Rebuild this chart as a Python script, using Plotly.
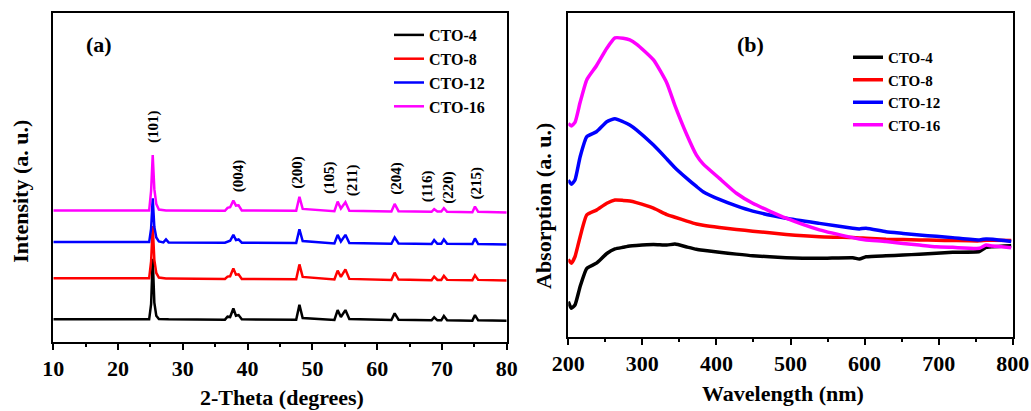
import plotly.graph_objects as go

# ---------------- data: (a) XRD ----------------
series_names = ["CTO-4", "CTO-8", "CTO-12", "CTO-16"]
series_colors = ["#000000", "#ff0000", "#0000ff", "#ff00ff"]

xrd_theta = [10, 24.8, 25.1, 25.35, 25.6, 25.9, 26.3, 27.0, 27.4, 27.8, 36.5, 36.9, 37.3, 37.8,
             38.2, 38.6, 39.1, 47.5, 48.0, 48.5, 53.4, 53.9, 54.4, 55.1, 55.7, 62.2, 62.7, 63.3,
             68.4, 68.8, 69.3, 69.9, 70.3, 70.8, 74.7, 75.1, 75.6, 80]
xrd_cto4 = [6.9, 6.9, 11.5, 25.3, 12.0, 8.0, 7.0, 6.9, 6.9, 6.9, 6.8, 7.7, 7.6, 10.2, 8.0, 8.2, 6.9,
            6.8, 11.3, 7.3, 6.7, 9.7, 7.6, 9.7, 7.0, 6.7, 8.7, 6.8, 6.6, 7.5, 6.6, 6.6, 7.9, 6.6,
            6.5, 8.2, 6.6, 6.5]
xrd_cto8 = [19.4, 19.4, 24.5, 35.3, 25.0, 21.0, 19.6, 19.3, 19.3, 19.3, 19.2, 19.9, 20.0, 22.4, 20.5,
            20.6, 19.2, 19.1, 23.6, 19.8, 19.0, 21.7, 19.8, 22.1, 19.2, 18.9, 21.1, 19.0, 18.8, 19.9,
            18.9, 18.9, 20.1, 18.9, 18.8, 20.3, 18.9, 18.7]
xrd_cto12 = [30.4, 30.4, 34.5, 43.7, 35.0, 31.8, 30.6, 30.3, 31.2, 30.3, 30.2, 30.6, 30.8, 32.6, 31.0,
             31.2, 30.2, 30.1, 34.3, 30.7, 30.0, 32.6, 30.6, 32.6, 30.1, 29.9, 31.8, 30.0, 29.8, 31.0,
             29.9, 29.9, 31.2, 29.9, 29.8, 31.5, 29.8, 29.7]
xrd_cto16 = [40.0, 40.0, 46.0, 56.9, 46.5, 42.0, 40.3, 40.0, 40.0, 40.0, 39.9, 40.8, 41.0, 43.0, 41.5,
             41.6, 40.0, 39.9, 44.2, 40.5, 39.8, 42.7, 40.6, 42.5, 39.9, 39.7, 42.0, 39.8, 39.6, 40.4,
             39.7, 39.7, 40.7, 39.6, 39.5, 41.2, 39.6, 39.4]

peak_labels = ["(101)", "(004)", "(200)", "(105)", "(211)", "(204)", "(116)", "(220)", "(215)"]
peak_label_x = [25.44, 38.56, 47.58, 52.72, 56.32, 63.02, 67.9, 71.09, 75.37]
peak_label_y = [65.5, 50.5, 51.7, 49.9, 49.3, 49.9, 47.5, 47.2, 48.4]

# ---------------- data: (b) UV-vis ----------------
wavelength = [200, 204, 209, 216, 225, 238, 252, 263, 274, 283, 292, 315, 333, 344, 360, 373, 382,
              404, 427, 449, 494, 539, 584, 593, 602, 629, 652, 674, 697, 719, 755, 764, 773, 798]
abs_cto4 = [10.9, 8.9, 9.9, 15.6, 21.2, 22.8, 25.8, 27.2, 27.7, 28.1, 28.3, 28.6, 28.4, 28.7, 27.8,
            27.1, 26.8, 26.2, 25.6, 25.1, 24.5, 24.3, 24.5, 24.1, 24.8, 25.1, 25.3, 25.6, 25.9, 26.2,
            26.4, 27.7, 27.9, 28.2]
abs_cto8 = [24.0, 22.8, 24.8, 31.0, 37.7, 39.2, 41.3, 42.3, 42.2, 42.0, 41.5, 39.8, 37.8, 37.0, 35.8,
            34.9, 34.5, 33.8, 33.2, 32.7, 31.7, 31.0, 30.7, 30.6, 30.5, 30.2, 30.1, 30.0, 29.9, 29.8,
            29.7, 29.9, 29.9, 29.8]
abs_cto12 = [48.5, 47.2, 48.5, 55.7, 61.9, 63.4, 66.5, 67.4, 66.5, 65.5, 64.0, 59.3, 55.0, 52.3, 49.0,
             46.5, 44.9, 42.5, 40.5, 38.9, 36.7, 35.1, 33.6, 33.4, 33.6, 32.5, 32.0, 31.5, 31.1, 30.7,
             30.0, 30.3, 30.2, 29.5]
abs_cto16 = [66.0, 65.2, 66.3, 72.5, 79.5, 83.8, 89.2, 92.4, 92.3, 91.8, 90.5, 85.6, 78.5, 71.5, 62.5,
             56.2, 53.5, 49.0, 44.4, 41.3, 36.7, 33.1, 30.7, 30.3, 30.0, 29.5, 28.9, 28.4, 27.9, 27.7,
             27.4, 28.4, 28.1, 27.6]

xrd_sets = [xrd_cto4, xrd_cto8, xrd_cto12, xrd_cto16]
abs_sets = [abs_cto4, abs_cto8, abs_cto12, abs_cto16]

FONT = "Times New Roman, Liberation Serif, serif"
W, H = 1031, 411

fig = go.Figure()
for name, color, ys in zip(series_names, series_colors, xrd_sets):
    fig.add_trace(go.Scatter(x=xrd_theta, y=ys, mode="lines", name=name,
                             line=dict(color=color, width=2.5), xaxis="x", yaxis="y",
                             legend="legend"))
for name, color, ys in zip(series_names, series_colors, abs_sets):
    fig.add_trace(go.Scatter(x=wavelength, y=ys, mode="lines", name=name,
                             line=dict(color=color, width=3.5, shape="spline", smoothing=0.5),
                             xaxis="x2", yaxis="y2", legend="legend2"))

def px_x(v):
    return v / W

def px_y(v):
    return 1 - v / H

axis_common = dict(showline=True, linecolor="black", linewidth=2, mirror=True,
                   showgrid=False, zeroline=False)
xtick = dict(ticks="outside", ticklen=6, tickwidth=2, tickcolor="black",
             tickprefix="<b>", ticksuffix="</b>",
             tickfont=dict(family=FONT, size=22, color="black", weight="bold"))

annotations = []
for t, xv, yv in zip(peak_labels, peak_label_x, peak_label_y):
    annotations.append(dict(text=t, x=xv, y=yv, xref="x", yref="y", showarrow=False,
                            textangle=-90, font=dict(family=FONT, size=15, color="black",
                                                     weight="bold")))
title_font = dict(family=FONT, size=22, color="black", weight="bold")
annotations += [
    dict(text="2-Theta (degrees)", x=px_x(282), y=px_y(397), xref="paper", yref="paper",
         showarrow=False, font=title_font, xanchor="center", yanchor="middle"),
    dict(text="Wavelength (nm)", x=px_x(782.5), y=px_y(393), xref="paper", yref="paper",
         showarrow=False, font=title_font, xanchor="center", yanchor="middle"),
    dict(text="Intensity (a. u.)", x=px_x(21), y=px_y(191.7), xref="paper", yref="paper",
         showarrow=False, font=title_font, textangle=-90, xanchor="center", yanchor="middle"),
    dict(text="Absorption (a. u.)", x=px_x(543), y=px_y(206), xref="paper", yref="paper",
         showarrow=False, font=title_font, textangle=-90, xanchor="center", yanchor="middle"),
    dict(text="(a)", x=px_x(99), y=px_y(45), xref="paper", yref="paper",
         showarrow=False, font=title_font, xanchor="center", yanchor="middle"),
    dict(text="(b)", x=px_x(750), y=px_y(45), xref="paper", yref="paper",
         showarrow=False, font=title_font, xanchor="center", yanchor="middle"),
]

fig.update_layout(
    width=W, height=H,
    autosize=False,
    margin=dict(l=0, r=0, t=0, b=0, autoexpand=False),
    paper_bgcolor="white", plot_bgcolor="white",
    font=dict(family=FONT, color="black"),
    showlegend=True,
    xaxis=dict(domain=[px_x(53.3), px_x(506.7)], range=[10, 80], dtick=10, anchor="y",
               minor=dict(dtick=5, ticks="outside", ticklen=3, tickwidth=2, tickcolor="black"),
               **xtick, **axis_common),
    yaxis=dict(domain=[px_y(342), px_y(13.3)], range=[0, 100], showticklabels=False,
               ticks="", anchor="x", **axis_common),
    xaxis2=dict(domain=[px_x(568.3), px_x(1012.7)], range=[200, 800], dtick=100, anchor="y2",
                minor=dict(dtick=50, ticks="outside", ticklen=3, tickwidth=2, tickcolor="black"),
                **xtick, **axis_common),
    yaxis2=dict(domain=[px_y(337), px_y(13.3)], range=[0, 100], showticklabels=False,
                ticks="", anchor="x2", **axis_common),
    legend=dict(x=px_x(389), y=px_y(18), xanchor="left", yanchor="top",
                bgcolor="rgba(0,0,0,0)",
                font=dict(family=FONT, size=16, color="black", weight="bold"), borderwidth=0),
    legend2=dict(x=px_x(848), y=px_y(41), xanchor="left", yanchor="top",
                 bgcolor="rgba(0,0,0,0)",
                 font=dict(family=FONT, size=15, color="black", weight="bold"), borderwidth=0),
    annotations=annotations,
)

fig.write_html(
    "out.html",
    config={"responsive": False, "displayModeBar": False},
    post_script="document.body.style.margin='0';document.body.style.overflow='hidden';",
)
